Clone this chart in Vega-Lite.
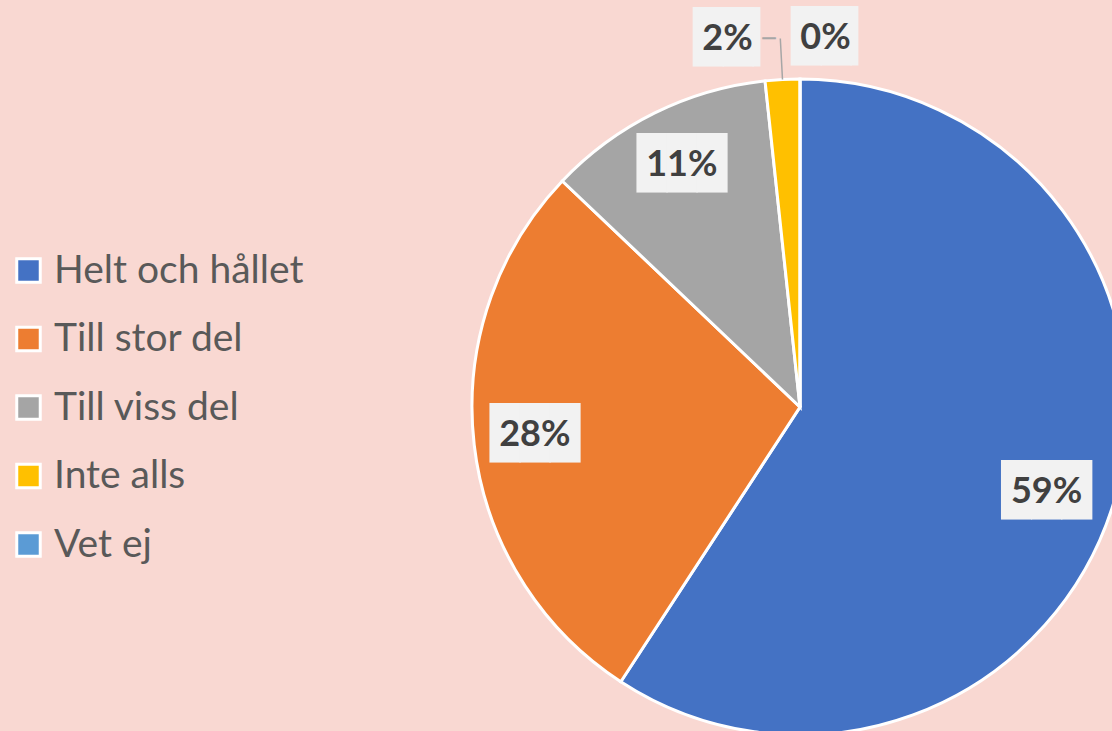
{
  "$schema": "https://vega.github.io/schema/vega-lite/v6.json",
  "width": 624,
  "height": 648,
  "autosize": "none",
  "padding": {"left": 488, "top": 83, "right": 0, "bottom": 0},
  "background": "#F9D8D2",
  "config": {"view": {"stroke": null}},
  "data": {
    "values": [
      {"cat": "Helt och hållet", "v": 59.2, "lbl": "59%", "o": 1},
      {"cat": "Till stor del", "v": 27.9, "lbl": "28%", "o": 2},
      {"cat": "Till viss del", "v": 11.2, "lbl": "11%", "o": 3},
      {"cat": "Inte alls", "v": 1.7, "lbl": "2%", "o": 4},
      {"cat": "Vet ej", "v": 0, "lbl": "0%", "o": 5}
    ]
  },
  "encoding": {
    "theta": {"field": "v", "type": "quantitative", "stack": true},
    "order": {"field": "o", "type": "quantitative"}
  },
  "layer": [
    {
      "mark": {"type": "arc", "outerRadius": 328, "stroke": "white", "strokeWidth": 3},
      "encoding": {
        "color": {
          "field": "cat",
          "type": "nominal",
          "sort": null,
          "scale": {
            "domain": ["Helt och hållet", "Till stor del", "Till viss del", "Inte alls", "Vet ej"],
            "range": ["#4472C4", "#ED7D31", "#A5A5A5", "#FFC000", "#5B9BD5"]
          },
          "legend": {
            "orient": "none",
            "legendX": -479,
            "legendY": 168,
            "title": null,
            "padding": 0,
            "symbolType": "square",
            "symbolSize": 552,
            "symbolStrokeColor": "white",
            "symbolStrokeWidth": 3,
            "labelFont": "Lato",
            "labelFontSize": 39,
            "labelColor": "#595959",
            "labelOffset": 6,
            "labelLimit": 500,
            "rowPadding": 28.5
          }
        }
      }
    },
    {
      "mark": {"type": "arc", "outerRadius": 369, "innerRadius": 328, "padAngle": 0.5, "fill": "transparent", "strokeWidth": 1.5},
      "encoding": {
        "detail": {"field": "cat"},
        "stroke": {"condition": {"test": "datum.o == 4", "value": "#A6A6A6"}, "value": "transparent"}
      }
    },
    {
      "mark": {"type": "text", "radius": 369, "dx": -11.5, "font": "DejaVu Sans Mono", "fontSize": 22, "fill": "#A6A6A6", "baseline": "middle", "align": "center"},
      "encoding": {
        "detail": {"field": "cat"},
        "text": {"condition": {"test": "datum.o == 4", "value": "─"}, "value": ""}
      }
    },
    {
      "mark": {"type": "text", "radius": 267, "dy": -3, "font": "DejaVu Sans Mono", "fontSize": 50, "fill": "#F2F2F2", "baseline": "middle", "align": "center"},
      "encoding": {
        "detail": {"field": "cat"},
        "text": {"condition": {"test": "datum.o == 2 || datum.o == 3", "value": "███"}, "value": ""}
      }
    },
    {
      "mark": {"type": "text", "radius": 267, "dx": -9.4, "dy": 9, "font": "DejaVu Sans Mono", "fontSize": 50, "fill": "#F2F2F2", "baseline": "middle", "align": "center"},
      "encoding": {
        "detail": {"field": "cat"},
        "text": {"condition": {"test": "datum.o == 1", "value": "███"}, "value": ""}
      }
    },
    {
      "mark": {"type": "text", "radius": 369, "dx": -87.3, "font": "DejaVu Sans Mono", "fontSize": 50, "fill": "#F2F2F2", "baseline": "middle", "align": "left"},
      "encoding": {
        "detail": {"field": "cat"},
        "text": {"condition": {"test": "datum.o == 4", "value": "██▎"}, "value": ""}
      }
    },
    {
      "mark": {"type": "text", "radius": 369, "dx": -9, "font": "DejaVu Sans Mono", "fontSize": 50, "fill": "#F2F2F2", "baseline": "middle", "align": "left"},
      "encoding": {
        "detail": {"field": "cat"},
        "text": {"condition": {"test": "datum.o == 5", "value": "██▎"}, "value": ""}
      }
    },
    {
      "mark": {"type": "text", "radius": 267, "dy": -3, "font": "Lato", "fontWeight": "bold", "fontSize": 36, "fill": "#404040", "baseline": "middle", "align": "center"},
      "encoding": {
        "detail": {"field": "cat"},
        "text": {"condition": {"test": "datum.o == 2 || datum.o == 3", "field": "lbl"}, "value": ""}
      }
    },
    {
      "mark": {"type": "text", "radius": 267, "dx": -9.4, "dy": 9, "font": "Lato", "fontWeight": "bold", "fontSize": 36, "fill": "#404040", "baseline": "middle", "align": "center"},
      "encoding": {
        "detail": {"field": "cat"},
        "text": {"condition": {"test": "datum.o == 1", "field": "lbl"}, "value": ""}
      }
    },
    {
      "mark": {"type": "text", "radius": 369, "dx": -52.8, "font": "Lato", "fontWeight": "bold", "fontSize": 36, "fill": "#404040", "baseline": "middle", "align": "center"},
      "encoding": {
        "detail": {"field": "cat"},
        "text": {"condition": {"test": "datum.o == 4", "field": "lbl"}, "value": ""}
      }
    },
    {
      "mark": {"type": "text", "radius": 369, "dx": 25.5, "font": "Lato", "fontWeight": "bold", "fontSize": 36, "fill": "#404040", "baseline": "middle", "align": "center"},
      "encoding": {
        "detail": {"field": "cat"},
        "text": {"condition": {"test": "datum.o == 5", "field": "lbl"}, "value": ""}
      }
    }
  ]
}
